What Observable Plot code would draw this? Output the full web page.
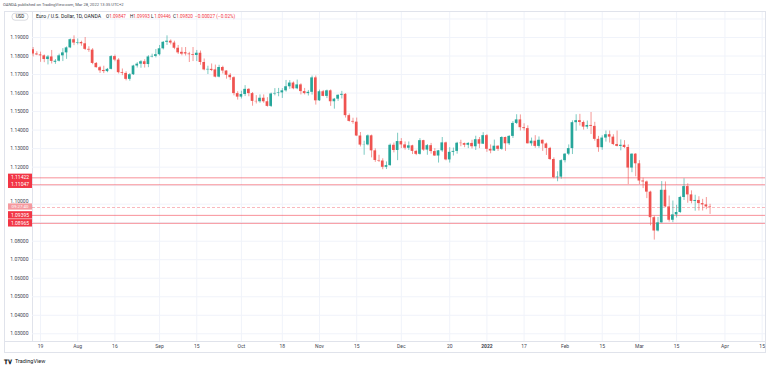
<!DOCTYPE html>
<html><head><meta charset="utf-8">
<script src="https://cdn.jsdelivr.net/npm/d3@7"></script>
<script src="https://cdn.jsdelivr.net/npm/@observablehq/plot@0.6"></script>
<style>
body{margin:0;background:#fff;font-family:Roboto,"Liberation Sans",sans-serif;}
#wrap{position:relative;width:768px;height:368px;overflow:hidden;background:#fff;}
#wrap svg{position:absolute;left:0;top:0;}
.t{position:absolute;white-space:nowrap;line-height:1;}
.ln{position:absolute;background:#e0e3eb;}
</style></head><body><div id="wrap"></div><script>
// ---- data (EUR/USD daily, trading-day order starting 2021-07-15) ----
const startDate = "2021-07-15";
const opens = [1.1834,1.1811,1.1806,1.1801,1.1781,1.1795,1.1766,1.1772,1.1801,1.1817,1.1844,1.1888,1.1870,1.1873,1.1866,1.1836,1.1832,1.1760,1.1737,1.1722,1.1716,1.1728,1.1797,1.1778,1.1710,1.1706,1.1674,1.1699,1.1746,1.1756,1.1769,1.1754,1.1795,1.1798,1.1807,1.1839,1.1874,1.1880,1.1870,1.1842,1.1820,1.1818,1.1811,1.1807,1.1803,1.1815,1.1765,1.1725,1.1728,1.1725,1.1686,1.1738,1.1719,1.1696,1.1683,1.1597,1.1578,1.1592,1.1620,1.1597,1.1555,1.1553,1.1572,1.1553,1.1528,1.1595,1.1598,1.1601,1.1612,1.1634,1.1654,1.1623,1.1644,1.1608,1.1597,1.1604,1.1682,1.1558,1.1607,1.1582,1.1612,1.1553,1.1567,1.1588,1.1593,1.1478,1.1447,1.1443,1.1368,1.1319,1.1320,1.1369,1.1288,1.1236,1.1233,1.1199,1.1208,1.1318,1.1290,1.1338,1.1320,1.1302,1.1315,1.1285,1.1269,1.1343,1.1292,1.1316,1.1284,1.1260,1.1288,1.1331,1.1239,1.1280,1.1285,1.1329,1.1327,1.1318,1.1328,1.1310,1.1348,1.1324,1.1370,1.1296,1.1287,1.1313,1.1296,1.1360,1.1326,1.1366,1.1436,1.1455,1.1413,1.1408,1.1326,1.1340,1.1312,1.1345,1.1325,1.1301,1.1241,1.1143,1.1146,1.1235,1.1270,1.1300,1.1440,1.1451,1.1441,1.1416,1.1425,1.1420,1.1350,1.1305,1.1357,1.1375,1.1362,1.1322,1.1312,1.1318,1.1306,1.1195,1.1270,1.1218,1.1125,1.1120,1.1065,1.0927,1.0855,1.0899,1.1075,1.0985,1.0913,1.0942,1.0955,1.1036,1.1095,1.1050,1.1015,1.1020,1.1003,1.0996,1.09847];
const highs = [1.1846,1.1823,1.1821,1.1806,1.1803,1.1830,1.1781,1.1810,1.1840,1.1849,1.1892,1.1909,1.1892,1.1880,1.1900,1.1850,1.1840,1.1765,1.1744,1.1745,1.1733,1.1802,1.1805,1.1786,1.1730,1.1715,1.1705,1.1750,1.1764,1.1775,1.1780,1.1802,1.1810,1.1835,1.1857,1.1878,1.1909,1.1887,1.1880,1.1857,1.1845,1.1846,1.1820,1.1846,1.1830,1.1827,1.1784,1.1745,1.1757,1.1751,1.1750,1.1745,1.1720,1.1705,1.1688,1.1607,1.1610,1.1640,1.1624,1.1603,1.1586,1.1590,1.1590,1.1575,1.1600,1.1624,1.1625,1.1624,1.1668,1.1667,1.1660,1.1670,1.1650,1.1625,1.1614,1.1692,1.1692,1.1616,1.1614,1.1616,1.1617,1.1571,1.1590,1.1609,1.1597,1.1487,1.1464,1.1465,1.1387,1.1340,1.1374,1.1373,1.1299,1.1264,1.1245,1.1228,1.1325,1.1330,1.1383,1.1354,1.1336,1.1336,1.1318,1.1291,1.1354,1.1345,1.1322,1.1328,1.1300,1.1290,1.1360,1.1335,1.1305,1.1303,1.1334,1.1345,1.1330,1.1332,1.1345,1.1367,1.1360,1.1386,1.1376,1.1320,1.1346,1.1315,1.1364,1.1362,1.1370,1.1446,1.1483,1.1482,1.1434,1.1423,1.1357,1.1370,1.1363,1.1346,1.1330,1.1307,1.1250,1.1175,1.1240,1.1273,1.1320,1.1450,1.1483,1.1485,1.1449,1.1449,1.1495,1.1442,1.1366,1.1369,1.1395,1.1395,1.1375,1.1395,1.1347,1.1343,1.1320,1.1272,1.1273,1.1235,1.1140,1.1125,1.1070,1.0935,1.0928,1.1122,1.1120,1.1044,1.1017,1.0994,1.1042,1.1137,1.1110,1.1072,1.1048,1.1040,1.1026,1.1036,1.09993];
const lows = [1.1795,1.1802,1.1766,1.1764,1.1752,1.1757,1.1755,1.1768,1.1770,1.1782,1.1840,1.1856,1.1860,1.1853,1.1830,1.1820,1.1753,1.1735,1.1706,1.1705,1.1710,1.1725,1.1769,1.1703,1.1694,1.1666,1.1664,1.1695,1.1735,1.1734,1.1735,1.1737,1.1790,1.1790,1.1800,1.1833,1.1857,1.1860,1.1834,1.1808,1.1801,1.1800,1.1765,1.1770,1.1770,1.1750,1.1720,1.1700,1.1716,1.1682,1.1682,1.1703,1.1675,1.1668,1.1585,1.1562,1.1568,1.1581,1.1580,1.1529,1.1541,1.1545,1.1545,1.1524,1.1522,1.1585,1.1580,1.1571,1.1605,1.1620,1.1618,1.1618,1.1590,1.1590,1.1584,1.1589,1.1535,1.1555,1.1580,1.1570,1.1528,1.1513,1.1555,1.1568,1.1465,1.1443,1.1432,1.1365,1.1309,1.1264,1.1315,1.1250,1.1226,1.1225,1.1186,1.1187,1.1205,1.1277,1.1235,1.1300,1.1292,1.1290,1.1268,1.1262,1.1265,1.1285,1.1264,1.1270,1.1258,1.1222,1.1280,1.1234,1.1222,1.1260,1.1270,1.1310,1.1305,1.1300,1.1298,1.1290,1.1300,1.1322,1.1280,1.1272,1.1285,1.1285,1.1291,1.1285,1.1317,1.1355,1.1430,1.1395,1.1395,1.1325,1.1313,1.1302,1.1302,1.1285,1.1263,1.1236,1.1137,1.1121,1.1135,1.1223,1.1262,1.1268,1.1394,1.1422,1.1400,1.1404,1.1376,1.1340,1.1280,1.1291,1.1335,1.1330,1.1316,1.1309,1.1288,1.1300,1.1106,1.1170,1.1148,1.1106,1.1084,1.1030,1.0883,1.0806,1.0850,1.0898,1.0980,1.0903,1.0900,1.0925,1.0950,1.1020,1.1005,1.1002,1.0962,1.0963,1.0963,1.0970,1.09446];
const closes = [1.1811,1.1806,1.1801,1.1781,1.1795,1.1771,1.1772,1.1801,1.1817,1.1844,1.1888,1.1870,1.1873,1.1866,1.1836,1.1832,1.1760,1.1737,1.1720,1.1716,1.1728,1.1797,1.1778,1.1710,1.1706,1.1674,1.1699,1.1746,1.1756,1.1769,1.1754,1.1795,1.1798,1.1807,1.1839,1.1874,1.1880,1.1870,1.1842,1.1817,1.1810,1.1811,1.1807,1.1803,1.1815,1.1765,1.1725,1.1728,1.1722,1.1686,1.1738,1.1719,1.1696,1.1683,1.1597,1.1578,1.1592,1.1620,1.1597,1.1555,1.1553,1.1572,1.1553,1.1528,1.1595,1.1598,1.1601,1.1612,1.1634,1.1654,1.1623,1.1644,1.1608,1.1597,1.1604,1.1682,1.1558,1.1607,1.1582,1.1612,1.1553,1.1567,1.1588,1.1593,1.1478,1.1447,1.1443,1.1368,1.1319,1.1320,1.1369,1.1288,1.1236,1.1233,1.1199,1.1208,1.1318,1.1290,1.1338,1.1320,1.1302,1.1315,1.1285,1.1269,1.1343,1.1292,1.1316,1.1284,1.1260,1.1288,1.1331,1.1239,1.1280,1.1285,1.1329,1.1327,1.1318,1.1328,1.1310,1.1348,1.1324,1.1370,1.1296,1.1287,1.1313,1.1296,1.1360,1.1326,1.1366,1.1436,1.1455,1.1413,1.1408,1.1326,1.1340,1.1312,1.1345,1.1325,1.1301,1.1241,1.1143,1.1146,1.1235,1.1270,1.1300,1.1440,1.1451,1.1441,1.1416,1.1425,1.1420,1.1350,1.1305,1.1357,1.1375,1.1362,1.1322,1.1312,1.1318,1.1306,1.1195,1.1270,1.1218,1.1125,1.1120,1.1065,1.0927,1.0855,1.0899,1.1075,1.0985,1.0913,1.0942,1.0955,1.1036,1.1095,1.1050,1.1015,1.1020,1.1003,1.0996,1.0985,1.09820];

const priceTicks = [1.03,1.04,1.05,1.06,1.07,1.08,1.09,1.10,1.11,1.12,1.13,1.14,1.15,1.16,1.17,1.18,1.19,1.20];
const priceLabelTicks = [1.03,1.04,1.05,1.06,1.07,1.08,1.12,1.13,1.14,1.15,1.16,1.17,1.18,1.19];
const nudgedPriceLabel = [1.10];
const timeTickDates = ["2021-07-19","2021-08-02","2021-08-16","2021-09-01","2021-09-15","2021-10-01","2021-10-18","2021-11-01","2021-11-15","2021-12-01","2021-12-20","2022-01-03","2022-01-17","2022-02-01","2022-02-15","2022-03-01","2022-03-15","2022-04-01","2022-04-15"];
const timeTickLabels = ["19","Aug","16","Sep","15","Oct","18","Nov","15","Dec","20","2022","17","Feb","15","Mar","15","Apr","15"];

const levelPrices = [1.11422, 1.11047, 1.09395, 1.08965];
const levelLabels = ["1.11422","1.11047","1.09395","1.08965"];
const lastClose = 1.09820;
const countdown = "09:27:40";

const headerText = "OANDA published on TradingView.com, Mar 28, 2022 13:35 UTC+2";
const legendName = "Euro / U.S. Dollar, 1D, OANDA";
const legendItems = [["O","1.09847"],["H","1.09993"],["L","1.09446"],["C","1.09820"]];
const legendChange = "\u22120.00027 (\u22120.02%)";

// ---- helpers ----
function tradingIndex(s){
  const [a,b,c]=startDate.split("-").map(Number), [y,m,d]=s.split("-").map(Number);
  let t=Date.UTC(a,b-1,c), end=Date.UTC(y,m-1,d), n=0;
  while(t<end){const wd=new Date(t).getUTCDay(); if(wd!==0&&wd!==6)n++; t+=86400000;}
  return n;
}
const candles = opens.map((o,i)=>({i, open:o, high:highs[i], low:lows[i], close:closes[i]}));
const upC = candles.filter(d=>d.close>=d.open), dnC = candles.filter(d=>d.close<d.open);
const timeTicks = timeTickDates.map((s,k)=>({i:tradingIndex(s), label:timeTickLabels[k], bold: timeTickLabels[k]==="2022"}));
const green="#26a69a", red="#ef5350", lvl="#f23645";
const bodyLo = d=>Math.min(d.open,d.close);
const bodyHi = d=>Math.max(Math.max(d.open,d.close), Math.min(d.open,d.close)+0.00006);

const plot = Plot.plot({
  width:768, height:368,
  marginLeft:32, marginRight:3, marginTop:12, marginBottom:27,
  x:{type:"linear", domain:[-0.16,196.9], axis:null},
  y:{domain:[1.02584,1.2035], axis:null},
  style:{background:"transparent", fontFamily:"Roboto, sans-serif", color:"#434651", overflow:"visible"},
  marks:[
    Plot.ruleY(priceTicks,{stroke:"#f0f3fa"}),
    Plot.ruleX(timeTicks,{x:"i", stroke:"#f0f3fa"}),
    Plot.ruleY(levelPrices,{stroke:lvl, strokeOpacity:0.55}),
    Plot.ruleY([lastClose],{stroke:lvl, strokeOpacity:0.35, strokeDasharray:"3,2"}),
    Plot.ruleX(upC,{x:"i", y1:"low", y2:"high", stroke:green, strokeOpacity:0.6, clip:true}),
    Plot.ruleX(dnC,{x:"i", y1:"low", y2:"high", stroke:red, strokeOpacity:0.6, clip:true}),
    Plot.rect(upC,{x1:d=>d.i-0.36, x2:d=>d.i+0.36, y1:bodyLo, y2:bodyHi, fill:green, clip:true}),
    Plot.rect(dnC,{x1:d=>d.i-0.36, x2:d=>d.i+0.36, y1:bodyLo, y2:bodyHi, fill:red, clip:true}),
    Plot.axisY(priceLabelTicks,{anchor:"left", tickSize:0, tickPadding:4, fontSize:5, fill:"#434651", tickFormat:d=>d.toFixed(5)}),
    Plot.axisY(nudgedPriceLabel,{anchor:"left", tickSize:0, tickPadding:4, fontSize:5, fill:"#434651", dy:-3, tickFormat:d=>d.toFixed(5)}),
    Plot.text(timeTicks.filter(d=>!d.bold),{x:"i", text:"label", frameAnchor:"bottom", dy:6, fontSize:5, fill:"#434651"}),
    Plot.text(timeTicks.filter(d=>d.bold),{x:"i", text:"label", frameAnchor:"bottom", dy:6, fontSize:5, fontWeight:"bold", fill:"#434651"})
  ]
});

const wrap = document.getElementById("wrap");
function line(l,t,w,h){const e=document.createElement("div");e.className="ln";Object.assign(e.style,{left:l+"px",top:t+"px",width:w+"px",height:h+"px"});wrap.appendChild(e);}
line(4,11,761,1); line(4,352,761,1); line(4,11,1,342); line(765,11,1,342); line(32,11,1,331); line(4,341,761,1);
wrap.appendChild(plot);

const ys = plot.scale("y");
const svg = d3.select(plot);
const g = svg.append("g").attr("font-family","Roboto, sans-serif").attr("font-size",5);
levelPrices.forEach((v,k)=>{
  const y = ys.apply(v);
  g.append("rect").attr("x",8).attr("y",y-3.7).attr("width",24).attr("height",7.4).attr("fill",lvl);
  g.append("text").attr("x",20).attr("y",y).attr("dy","0.35em").attr("text-anchor","middle").attr("fill","#fff").text(levelLabels[k]);
});
{
  const y = ys.apply(lastClose);
  g.append("rect").attr("x",8).attr("y",y-3.6).attr("width",24).attr("height",6.2).attr("fill","#f59aa0");
  g.append("text").attr("x",20).attr("y",y-0.3).attr("dy","0.35em").attr("text-anchor","middle").attr("fill","#fff").attr("font-size",4.4).text(countdown);
}
g.append("rect").attr("x",12).attr("y",13.2).attr("width",16).attr("height",7).attr("rx",3).attr("fill","#fff").attr("stroke","#b2b5be").attr("stroke-width",0.5);
g.append("text").attr("x",20).attr("y",16.7).attr("dy","0.35em").attr("text-anchor","middle").attr("fill","#131722").attr("font-size",4.6).text("USD");

function txt(s,l,t,size,color,weight){const e=document.createElement("div");e.className="t";e.textContent=s;Object.assign(e.style,{left:l+"px",top:t+"px",fontSize:size+"px",color:color,fontWeight:weight||"normal"});wrap.appendChild(e);return e;}
txt(headerText,3,3,4.1,"#50535e");
txt(legendName,36,14.4,5.05,"#131722");
const lx=[106,130,151,173];
legendItems.forEach((it,k)=>{txt(it[0],lx[k],14.6,4.6,"#131722"); txt(it[1],lx[k]+3.2,14.6,4.6,lvl);});
txt(legendChange,195,14.6,4.8,lvl);
txt("\u{1D413}\u{1D415}",4,358.5,6,"#131722","bold");
txt("TradingView",15,359,5.5,"#131722");
</script></body></html>
